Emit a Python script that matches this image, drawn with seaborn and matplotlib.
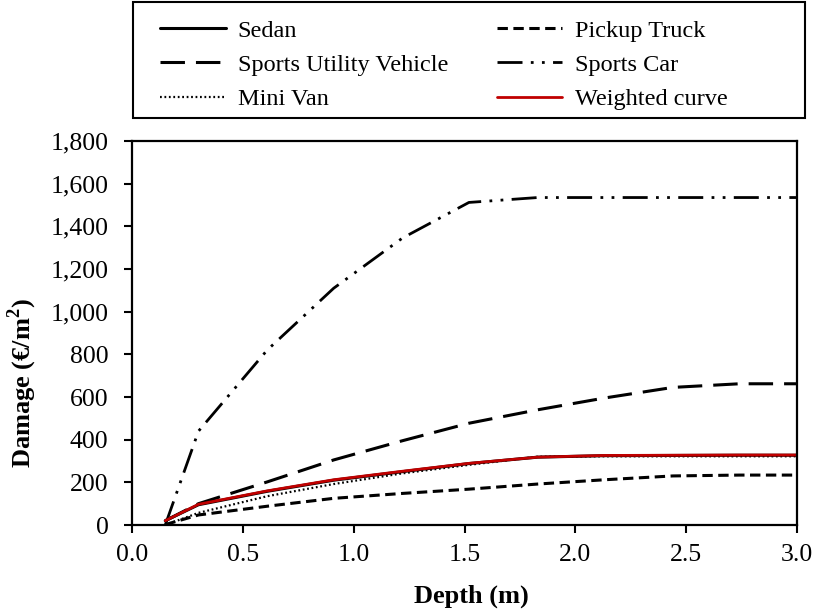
import numpy as np
import pandas as pd
import matplotlib
matplotlib.use("Agg")
import matplotlib.pyplot as plt
import seaborn as sns
from matplotlib.ticker import FuncFormatter, MultipleLocator
from matplotlib.patches import Rectangle

depth = [0.15, 0.30, 0.61, 0.91, 1.22, 1.52, 1.83, 2.13, 2.44, 2.74, 3.05]
sedan = [20, 95, 158, 210, 250, 288, 318, 325, 326, 327, 327]
pickup = [2, 47, 88, 125, 148, 168, 192, 212, 230, 234, 234]
suv = [20, 100, 202, 305, 395, 477, 540, 595, 645, 662, 662]
sports = [0, 440, 820, 1110, 1345, 1512, 1535, 1535, 1535, 1535, 1535]
minivan = [0, 57, 135, 192, 242, 282, 320, 322, 322, 322, 322]
weighted = [20, 97, 160, 212, 252, 289, 318, 326, 327, 328, 328]

sns.set_theme(style="white")
plt.rcParams["font.family"] = ["Liberation Serif", "DejaVu Serif"]
plt.rcParams["mathtext.fontset"] = "custom"
plt.rcParams["mathtext.rm"] = "Liberation Serif"
plt.rcParams["mathtext.bf"] = "Liberation Serif:bold"

W, H = 816, 612
fig = plt.figure(figsize=(W / 100, H / 100), dpi=100)
ax = fig.add_axes([132 / W, 1 - 525 / H, 665 / W, 384 / H])

series = [
    ("Sedan", sedan, dict(color="black", linestyle="-", linewidth=2.2)),
    ("Sports Utility Vehicle", suv, dict(color="black", linestyle=(0, (8, 3.6)), linewidth=2.2)),
    ("Mini Van", minivan, dict(color="black", linestyle=(0, (0.8, 1.2)), linewidth=1.6)),
    ("Pickup Truck", pickup, dict(color="black", linestyle=(0, (3.4, 1.8)), linewidth=2.2)),
    ("Sports Car", sports, dict(color="black", linestyle=(0, (9, 3, 1, 3, 1, 3)), linewidth=2.0)),
    ("Weighted curve", weighted, dict(color="#c00000", linestyle="-", linewidth=2.0)),
]

for name, vals, kw in series:
    df = pd.DataFrame({"depth": depth, "damage": vals})
    sns.lineplot(data=df, x="depth", y="damage", ax=ax, label=name, **kw)

ax.set_xlim(0, 3.0)
ax.set_ylim(0, 1800)
ax.xaxis.set_major_locator(MultipleLocator(0.5))
ax.yaxis.set_major_locator(MultipleLocator(200))
ax.xaxis.set_major_formatter(FuncFormatter(lambda v, p: f"{v:.1f}"))
ax.yaxis.set_major_formatter(FuncFormatter(lambda v, p: f"{int(v):,}"))
ax.tick_params(axis="both", which="major", direction="out", length=6, width=1.5,
               labelsize=18.5, colors="black", left=True, bottom=True)
ax.tick_params(axis="y", pad=11)
ax.tick_params(axis="x", pad=8)
for s in ax.spines.values():
    s.set_visible(True)
    s.set_color("black")
    s.set_linewidth(1.6)
ax.grid(False)

ax.set_xlabel("Depth (m)", fontsize=19, fontweight="bold", color="black")
ax.set_ylabel("Damage (€/m$^{\\mathbf{2}}$)", fontsize=19, fontweight="bold", color="black")
ax.xaxis.set_label_coords(0.51, -0.155)
ax.yaxis.set_label_coords(-0.14, 0.37)

handles, labels = ax.get_legend_handles_labels()
leg = ax.legend(handles, labels, ncol=2, loc="center left",
                bbox_to_anchor=(160 / W, 1 - 65 / H), bbox_transform=fig.transFigure,
                frameon=False, fontsize=17.5, handlelength=2.7, handletextpad=0.5,
                borderpad=0, borderaxespad=0, columnspacing=2.0, labelspacing=0.5)
for t in leg.get_texts():
    t.set_color("black")

fig.patches.append(Rectangle((133 / W, 1 - 118 / H), 672 / W, 116 / H,
                             transform=fig.transFigure, fill=False,
                             edgecolor="black", linewidth=1.5))

fig.savefig("out.png", dpi=100)
